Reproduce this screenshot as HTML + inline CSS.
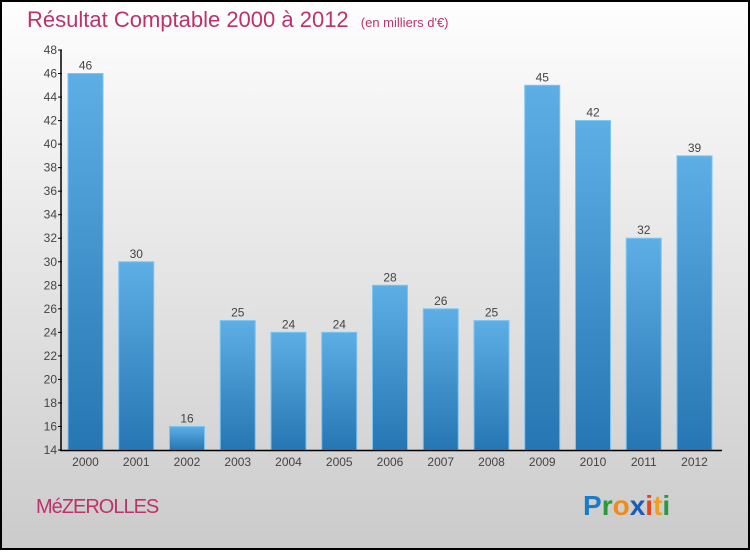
<!DOCTYPE html>
<html><head><meta charset="utf-8"><style>
body{margin:0;width:750px;height:550px;overflow:hidden;font-family:"Liberation Sans",sans-serif}
</style></head><body>
<svg width="750" height="550" xmlns="http://www.w3.org/2000/svg">
<defs>
<linearGradient id="bg" x1="0" y1="0" x2="0" y2="1"><stop offset="0" stop-color="#fefefe"/><stop offset="1" stop-color="#cbcbcb"/></linearGradient>
<linearGradient id="bar" x1="0" y1="0" x2="0" y2="1"><stop offset="0" stop-color="#5eaee6"/><stop offset="1" stop-color="#2576b2"/></linearGradient>
</defs>
<rect x="1" y="1" width="748" height="548" fill="url(#bg)" stroke="#000" stroke-width="2"/>
<text x="27" y="27" font-size="22" fill="#c0306a">Résultat Comptable 2000 à 2012 <tspan font-size="13" dx="6">(en milliers d'€)</tspan></text>
<g id="plot"></g>
<text x="36" y="513" font-size="20" fill="#c0306a" letter-spacing="-1">MéZEROLLES</text>
<text x="583" y="515" font-size="28" font-weight="bold"><tspan fill="#1a7cc8">P</tspan><tspan fill="#2a9a3a">r</tspan><tspan fill="#f08a1a">o</tspan><tspan fill="#1a5cb8">x</tspan><tspan fill="#e8441a">i</tspan><tspan fill="#f0a020">t</tspan><tspan fill="#2a9a3a">i</tspan></text>
</svg>
<script>
const years=["2000","2001","2002","2003","2004","2005","2006","2007","2008","2009","2010","2011","2012"];
const values=[46,30,16,25,24,24,28,26,25,45,42,32,39];
const yTicks=[14,16,18,20,22,24,26,28,30,32,34,36,38,40,42,44,46,48];
const NS="http://www.w3.org/2000/svg";
const g=document.getElementById('plot');
const y0=450,y1=50,vmin=14,vmax=48;
const yS=v=>y0-(v-vmin)/(vmax-vmin)*(y0-y1);
const xS=i=>68+i*50.75;
const bw=35;
function mk(t,a){const e=document.createElementNS(NS,t);for(const k in a)e.setAttribute(k,a[k]);g.appendChild(e);return e;}
yTicks.forEach(v=>{
 const l=mk('line',{x1:58,x2:62,y1:yS(v),y2:yS(v),stroke:'#000'});
 
 
 const t=mk('text',{x:57,y:yS(v)+4,'font-size':12,'text-anchor':'end',fill:'#444'});
 t.textContent=v;
 
 
});
values.forEach((v,i)=>{
 const r=mk('rect',{x:xS(i),y:yS(v),width:bw,height:y0-yS(v),fill:'url(#bar)',stroke:'#7cc4f4','stroke-width':1});
 
 
 const t=mk('text',{x:xS(i)+bw/2,y:yS(v)-4,'font-size':12,'text-anchor':'middle',fill:'#444'});
 t.textContent=v;
 
 
 const xl=mk('text',{x:xS(i)+bw/2,y:466,'font-size':12,'text-anchor':'middle',fill:'#444'});
 xl.textContent=years[i];
 
 
});
const ya=mk('line',{x1:61,x2:61,y1:50,y2:451,stroke:'#000','stroke-width':1.5});


const xa=mk('line',{x1:60,x2:722,y1:450.5,y2:450.5,stroke:'#000','stroke-width':1.5});


</script>
</body></html>
